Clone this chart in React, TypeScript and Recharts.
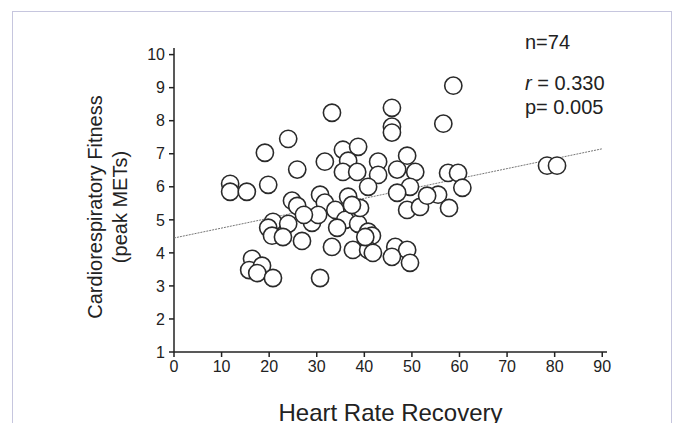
import { ScatterChart, Scatter, XAxis, YAxis } from "recharts";

// Heart rate recovery (x) vs peak METs (y)
const hrr = [
  11.8, 11.8, 15.3, 19.1, 19.8, 24.0, 25.9, 33.2, 31.7, 35.5,
  38.7, 36.6, 35.5, 38.5, 42.9, 42.9, 49.0, 46.9, 50.7, 49.6,
  40.8, 45.8, 45.8, 45.8, 56.6, 58.7, 57.6, 59.7, 60.6, 55.5,
  57.8, 78.4, 80.5, 24.8, 25.9, 30.7, 31.7, 36.6, 33.9, 36.0,
  38.7, 40.8, 41.6, 20.8, 19.8, 24.0, 20.6, 22.9, 26.9, 29.0,
  30.3, 34.3, 33.2, 37.6, 40.8, 41.8, 46.5, 49.0, 45.8, 49.6,
  30.7, 49.0, 51.7, 53.2, 39.1, 16.4, 15.8, 18.5, 17.5, 20.8,
  37.4, 40.2, 27.3, 46.9,
];
const mets = [
  6.09, 5.85, 5.85, 7.03, 6.06, 7.45, 6.52, 8.24, 6.76, 7.12,
  7.21, 6.79, 6.45, 6.45, 6.76, 6.36, 6.94, 6.52, 6.45, 6.0,
  6.0, 8.39, 7.82, 7.64, 7.91, 9.06, 6.42, 6.42, 5.97, 5.76,
  5.36, 6.64, 6.64, 5.58, 5.42, 5.76, 5.52, 5.7, 5.3, 5.0,
  4.88, 4.64, 4.52, 4.94, 4.76, 4.88, 4.52, 4.48, 4.36, 4.91,
  5.15, 4.76, 4.18, 4.09, 4.09, 4.0, 4.18, 4.09, 3.88, 3.7,
  3.24, 5.3, 5.39, 5.73, 5.36, 3.82, 3.48, 3.61, 3.39, 3.24,
  5.45, 4.48, 5.15, 5.82,
];

// regression line end points
const fitX = [0, 90];
const fitY = [4.45, 7.15];

const xTicks = [0, 10, 20, 30, 40, 50, 60, 70, 80, 90];
const yTicks = [1, 2, 3, 4, 5, 6, 7, 8, 9, 10];

const points = hrr.map((x, i) => ({ x, y: mets[i] }));
const fit = fitX.map((x, i) => ({ x, y: fitY[i] }));

const font = "'Liberation Sans', Arial, sans-serif";

const Ring = (props: any) => (
  <circle
    cx={props.cx}
    cy={props.cy}
    r={8.6}
    fill="#fff"
    stroke="#2a2a2a"
    strokeWidth={1.6}
  />
);

export default function App() {
  return (
    <div
      style={{
        position: "absolute",
        left: 0,
        top: 0,
        width: 678,
        height: 423,
        overflow: "hidden",
        background: "#fff",
        fontFamily: font,
      }}
    >
      <div
        style={{
          position: "absolute",
          left: 12,
          top: 11,
          width: 658,
          height: 460,
          border: "1px solid #c6c6de",
        }}
      />
      <div style={{ position: "absolute", left: 0, top: 0 }}>
        <ScatterChart
          width={678}
          height={423}
          margin={{ top: 48, right: 71, bottom: 0, left: 0 }}
        >
          <XAxis
            type="number"
            dataKey="x"
            domain={[0, 91]}
            ticks={xTicks}
            interval={0}
            height={71}
            stroke="#222"
            strokeWidth={1.5}
            tickSize={5}
            tick={{ fill: "#222", fontSize: 16, fontFamily: font }}
            tickMargin={4}
            label={{
              value: "Heart Rate Recovery",
              position: "insideBottom",
              offset: 2,
              fill: "#222",
              fontSize: 24,
              fontFamily: font,
            }}
          />
          <YAxis
            type="number"
            dataKey="y"
            domain={[1, 10.2]}
            ticks={yTicks}
            interval={0}
            width={174}
            stroke="#222"
            strokeWidth={1.5}
            tickSize={5}
            tick={{ fill: "#222", fontSize: 16, fontFamily: font }}
            tickMargin={4}
          />
          <Scatter
            data={fit}
            line={{ stroke: "#777", strokeWidth: 1, strokeDasharray: "2 1" }}
            shape={() => <g />}
            isAnimationActive={false}
          />
          <Scatter data={points} shape={Ring} isAnimationActive={false} />
        </ScatterChart>
      </div>
      <div
        style={{
          position: "absolute",
          left: 62,
          top: 207,
          width: 0,
          height: 0,
        }}
      >
        <div
          style={{
            position: "absolute",
            transform: "translate(-50%, -50%) rotate(-90deg)",
            whiteSpace: "nowrap",
            textAlign: "center",
            fontSize: 20,
            lineHeight: "25px",
            color: "#222",
            left: 46,
          }}
        >
          Cardiorespiratory Fitness
          <br />
          (peak METs)
        </div>
      </div>
      <div style={{ position: "absolute", left: 525, top: 31, fontSize: 20, color: "#222" }}>
        n=74
      </div>
      <div style={{ position: "absolute", left: 525, top: 72, fontSize: 20, color: "#222" }}>
        <i>r</i> = 0.330
      </div>
      <div style={{ position: "absolute", left: 525, top: 96, fontSize: 20, color: "#222" }}>
        p= 0.005
      </div>
    </div>
  );
}
